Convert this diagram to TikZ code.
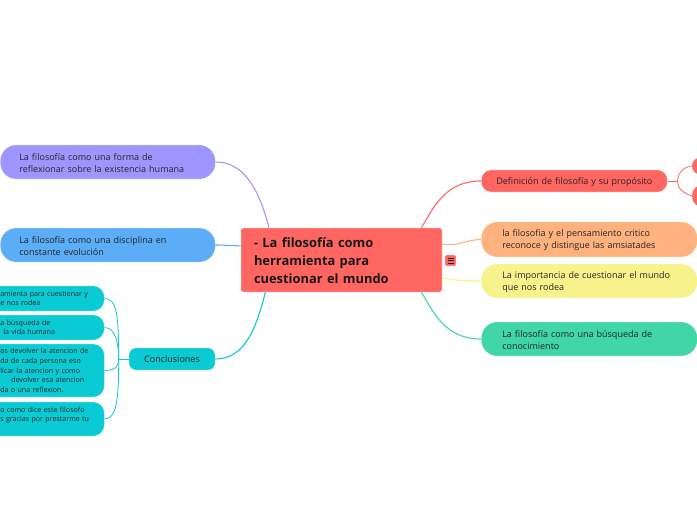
\documentclass[tikz,border=0pt]{standalone}
\usepackage{fontspec}
\setmainfont{Open Sans}
\usepackage{xcolor}
\definecolor{rojo}{HTML}{FF6662}
\definecolor{lila}{HTML}{9D96FF}
\definecolor{azul}{HTML}{5AADF6}
\definecolor{turquesa}{HTML}{0ACBD3}
\definecolor{naranja}{HTML}{FFB27D}
\definecolor{amarillo}{HTML}{F7F28C}
\definecolor{verde}{HTML}{40D6A6}
\newcommand{\baja}[1]{\raisebox{-1pt}[\height][\depth]{#1}}
\tikzset{
  borde/.style={draw=white,draw opacity=0.3,line width=0.6pt},
  tema/.style={borde,rounded corners=16pt,minimum height=34pt,text width=#1,align=left,
    font=\fontsize{9}{12.2}\selectfont,text=black!85,anchor=west,inner ysep=0pt},
  hoja/.style={borde,rounded corners=11pt,text=black!85,anchor=west,inner ysep=0pt,inner xsep=12pt,
    text width=92pt,font=\fontsize{7.1}{9.6}\selectfont,align=left,fill=turquesa},
  rama/.style={line width=1.1pt},
  ramita/.style={line width=0.8pt}
}
\begin{document}
\begin{tikzpicture}[x=1pt,y=-1pt]
        \useasboundingbox (0,0) rectangle (697,520);
        \clip (0,0) rectangle (697,520);

        % Nodo central
        \node[borde,fill=rojo,rounded corners=2.5pt,minimum width=201pt,minimum height=64pt,inner sep=0pt,
          text width=175pt,align=left,font=\fontsize{12.9}{18}\selectfont\bfseries,text=black!90]
          (raiz) at (341.5,260) {\baja{- La filosofía como}\\\baja{herramienta para}\\\baja{cuestionar el mundo}};

        % Icono de notas
        \node[borde,fill=rojo,rounded corners=1.5pt,minimum size=11pt,inner sep=0pt] (icono) at (450.5,260.5) {};
        \draw[line width=0.8pt,black!85] (icono.center) ++(-3,-2.5) -- ++(6,0) ++(-6,2.5) -- ++(6,0) ++(-6,2.5) -- ++(6,0);

        % Ramas de la derecha
        \node[tema=186pt,fill=rojo,inner xsep=0pt,minimum height=22pt,rounded corners=10pt,align=center] (definicion) at (481,181) {\baja{Definición de filosofía y su propósito}};
        \node[tema=174pt,fill=naranja,inner xsep=21pt,minimum height=35pt] (critico) at (481,239.5) {\baja{la filosofia y el pensamiento critico}\\\baja{reconoce y distingue las amsiatades}};
        \node[tema=174pt,fill=amarillo,inner xsep=21pt] (importancia) at (481,281) {\baja{La importancia de cuestionar el mundo}\\\baja{que nos rodea}};
        \node[tema=174pt,fill=verde,inner xsep=21pt] (busqueda) at (481,339) {\baja{La filosofía como una búsqueda de}\\\baja{conocimiento}};

        % Ramas de la izquierda
        \node[tema=177pt,fill=lila,inner xsep=19pt] (reflexion) at (0,162) {\baja{La filosofía como una forma de}\\\baja{reflexionar sobre la existencia humana}};
        \node[tema=177pt,fill=azul,inner xsep=19pt] (disciplina) at (0,245) {\baja{La filosofía como una disciplina en}\\\baja{constante evolución}};
        \node[borde,fill=turquesa,rounded corners=7pt,minimum width=86pt,minimum height=22pt,inner sep=0pt,font=\fontsize{9}{11}\selectfont,text=black!85] (conclusiones) at (172,359) {Conclusiones};

        % Hojas de Conclusiones
        \node[hoja,minimum height=25pt] (hojaA) at (-12,298.5) {amienta para cuestionar y\\e nos rodea};
        \node[hoja,minimum height=25pt] (hojaB) at (-12,327.5) {a búsqueda de\\\hspace*{3pt}la vida humana};
        \node[hoja,minimum height=53pt] (hojaC) at (-12,370.5) {os devolver la atencion de\\da de cada persona eso\\licar la atencion y como\\\hspace*{11pt}devolver esa atencion\\da o una reflexion.};
        \node[hoja,minimum height=34pt] (hojaD) at (-12,419) {o como dice este filosofo\\s gracias por prestarme tu\\\mbox{}};

        % Hojas de Definicion (cortadas por el borde)
        \node[fill=rojo,circle,minimum size=17pt,inner sep=0pt] (hojaE) at (700.5,166) {};
        \node[fill=rojo,circle,minimum size=24pt,inner sep=0pt] (hojaF) at (704,196) {};

        % Conectores
        \draw[rama,lila] (reflexion.east) .. controls +(30,0) and +(-9,-35) .. (raiz.156.5);
        \draw[rama,azul] (disciplina.east) .. controls +(10,0) and +(-10,0) .. (raiz.172);
        \draw[rama,turquesa] (conclusiones.east) .. controls +(30,0) and +(-9,35) .. (raiz.203.5);
        \draw[rama,rojo] (definicion.west) .. controls +(-35,0) and +(13,-22) .. (raiz.22.6);
        \draw[rama,naranja] (critico.west) .. controls +(-15,0) and +(15,3) .. (raiz.9.6);
        \draw[rama,amarillo] (importancia.west) .. controls +(-15,0) and +(15,3) .. (raiz.-10.1);
        \draw[rama,verde] (busqueda.west) .. controls +(-35,0) and +(13,22) .. (raiz.-22.6);
        \draw[ramita,turquesa] (conclusiones.west) -- ++(-10,0) coordinate (union);
        \foreach \hoja/\salto in {hojaA/-45,hojaB/-12,hojaC/6,hojaD/40}
          \draw[ramita,turquesa] (\hoja.east) .. controls +(12,0) and +(0,\salto) .. (union);
        \draw[ramita,rojo] (definicion.east) -- ++(10,0) coordinate (partir);
        \draw[ramita,rojo] (partir) .. controls +(0,-10) and +(-5,0) .. (hojaE.west);
        \draw[ramita,rojo] (partir) .. controls +(0,10) and +(-5,-2) .. (hojaF.west);
\end{tikzpicture}
\end{document}
